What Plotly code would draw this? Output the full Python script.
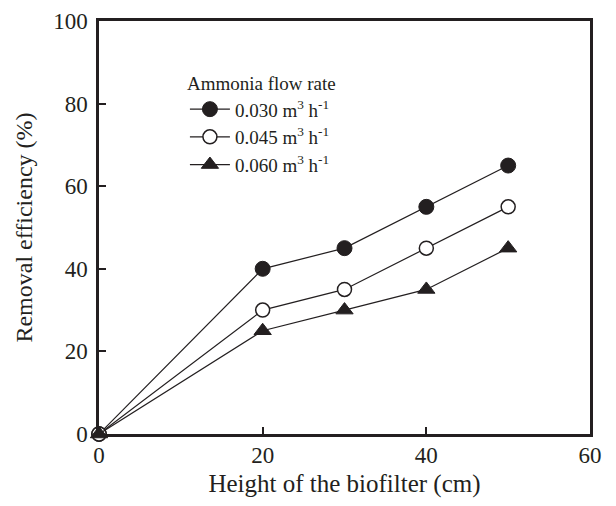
import plotly.graph_objects as go

height_cm = [0, 20, 30, 40, 50]
eff_030 = [0, 40, 45, 55, 65]
eff_045 = [0, 30, 35, 45, 55]
eff_060 = [0, 25, 30, 35, 45]
names = ["0.030 m<sup>3</sup> h<sup>-1</sup>", "0.045 m<sup>3</sup> h<sup>-1</sup>", "0.060 m<sup>3</sup> h<sup>-1</sup>"]
x_ticks = [0, 20, 40, 60]
y_ticks = [0, 20, 40, 60, 80, 100]

FONT = "Liberation Serif"
INK = "#231f20"
fig = go.Figure()
styles = [
    dict(symbol="circle", color=INK, line=dict(color=INK, width=1), size=15),
    dict(symbol="circle", color="white", line=dict(color=INK, width=1.5), size=14),
    dict(symbol="triangle-up", color=INK, line=dict(color=INK, width=1), size=15),
]
for ys, nm, st in zip([eff_030, eff_045, eff_060], names, styles):
    fig.add_trace(go.Scatter(
        x=height_cm, y=ys, name=nm, mode="lines+markers",
        line=dict(color=INK, width=1.2),
        marker=dict(size=st["size"], symbol=st["symbol"], color=st["color"], line=st["line"]),
        cliponaxis=False,
    ))

fig.update_layout(
    width=600, height=490,
    margin=dict(l=91, r=18, t=13, b=64),
    paper_bgcolor="white", plot_bgcolor="white",
    font=dict(family=FONT, color=INK),
    showlegend=True,
    legend=dict(
        x=0.175, y=0.892, xanchor="left", yanchor="top",
        bgcolor="rgba(0,0,0,0)",
        font=dict(family=FONT, size=19, color=INK),
        title=dict(text="Ammonia flow rate", font=dict(family=FONT, size=19, color=INK)),
        tracegroupgap=0, itemwidth=40,
    ),
    xaxis=dict(
        range=[0, 60], tickvals=x_ticks, ticks="inside", ticklen=7, tickwidth=1.5,
        tickcolor=INK, showline=True, linecolor=INK, linewidth=2.5, mirror=True,
        showgrid=False, zeroline=False, automargin=False, ticklabelstandoff=-1,
        ticklabeloverflow="allow",
        tickfont=dict(family=FONT, size=23, color=INK),
        title=dict(text="Height of the biofilter (cm)", font=dict(family=FONT, size=25, color=INK), standoff=11),
    ),
    yaxis=dict(
        range=[0, 100], tickvals=y_ticks, ticks="inside", ticklen=7, tickwidth=1.5,
        tickcolor=INK, showline=True, linecolor=INK, linewidth=2.5, mirror=True,
        showgrid=False, zeroline=False, automargin=False, ticklabelstandoff=4,
        ticklabeloverflow="allow",
        tickfont=dict(family=FONT, size=23, color=INK),
        title=dict(text="Removal efficiency (%)", font=dict(family=FONT, size=24, color=INK), standoff=14),
    ),
)
fig.write_html("out.html")
